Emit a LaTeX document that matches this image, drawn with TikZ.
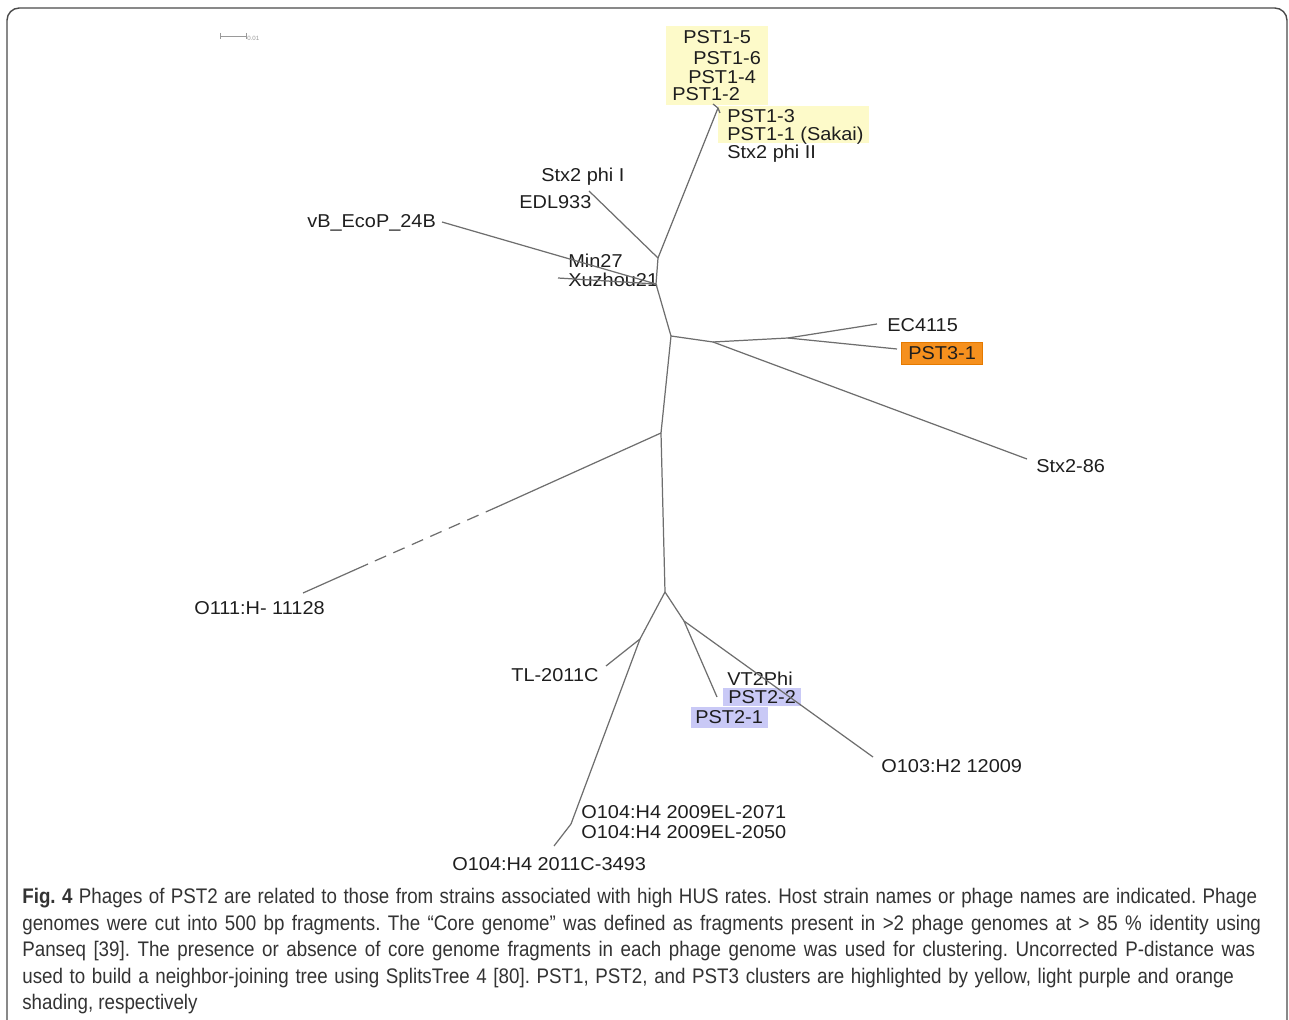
\documentclass[tikz,border=0pt]{standalone}
\usepackage{fontspec}
\setmainfont{Liberation Sans}
\newfontfamily\treefont[FakeStretch=1.07]{Liberation Sans}
\newfontfamily\capfont[FakeStretch=0.89]{Liberation Sans}
\definecolor{branchgray}{HTML}{6E6E6E}
\definecolor{labelgray}{HTML}{1E1E1E}
\definecolor{captext}{HTML}{333333}
\definecolor{framegray}{HTML}{4A4A4A}
\definecolor{pstone}{HTML}{FDFAC9}
\definecolor{psttwo}{HTML}{C9C9F6}
\definecolor{pstthree}{HTML}{F5901E}
\definecolor{pstthreedark}{HTML}{E57A00}
\begin{document}
\frenchspacing
\begin{tikzpicture}[x=0.02cm,y=-0.02cm,
    branch/.style={draw=branchgray,line width=0.7pt},
    leaf/.style={anchor=base west,inner sep=0pt,text=labelgray,
      font=\treefont\fontsize{10.6}{12}\selectfont},
    capline/.style={anchor=base west,inner sep=0pt,text=captext,
      font=\capfont\fontsize{12}{14}\selectfont}]
  \useasboundingbox (0,0) rectangle (1289,1020);
  \draw[framegray,line width=0.8pt,rounded corners=7pt]
    (7,1060) -- (7,8) -- (1287,8) -- (1287,1060);
  % shading of the clusters
  \fill[pstone] (666,26) rectangle (768,105);
  \fill[pstone] (718,106) rectangle (869,143);
  \fill[psttwo] (723,688) rectangle (801,706);
  \fill[psttwo] (691,707) rectangle (768,728);
  \draw[fill=pstthree,draw=pstthreedark,line width=0.5pt] (901,342) rectangle (982,364);
  % scale bar
  \draw[branchgray!70,line width=0.5pt] (220,33) -- (220,39) (220,36) -- (246,36) (246,33) -- (246,39);
  \node[anchor=west,inner sep=0pt,text=branchgray!70,font=\fontsize{3.5}{4}\selectfont] (scale) at (247,38) {0.01};
  % leaves
  \begin{scope}[every node/.style=leaf]
    \draw
      (683,44) node (pst15) {PST1-5}
      (693,65) node (pst16) {PST1-6}
      (688,84) node (pst14) {PST1-4}
      (672,101) node (pst12) {PST1-2}
      (727,123) node (pst13) {PST1-3}
      (727,141) node (pst11) {PST1-1 (Sakai)}
      (727,159) node (stxphiII) {Stx2 phi II}
      (541,182) node (stxphiI) {Stx2 phi I}
      (519,209) node (edl) {EDL933}
      (307,228) node (vb) {vB\_EcoP\_24B}
      (568,268) node (min) {Min27}
      (568,287) node (xuz) {Xuzhou21}
      (887,332) node (ec) {EC4115}
      (908,360) node (pst31) {PST3-1}
      (1036,473) node (stx86) {Stx2-86}
      (194,615) node (oeleven) {O111:H- 11128}
      (511,682) node (tl) {TL-2011C}
      (727,685) node (vt) {VT2Phi}
      (728,704) node (pst22) {PST2-2}
      (695,724) node (pst21) {PST2-1}
      (881,772) node (othree) {O103:H2 12009}
      (581,818) node (ofour71) {O104:H4 2009EL-2071}
      (581,838) node (ofour50) {O104:H4 2009EL-2050}
      (452,870) node (ofour93) {O104:H4 2011C-3493};
  \end{scope}
  % inner points and branch ends
  \coordinate (a) at (658,258);
  \coordinate (b) at (671,336);
  \coordinate (c) at (661,433);
  \coordinate (d) at (665,592);
  \coordinate (e) at (713,342);
  \coordinate (f) at (788,338);
  \coordinate (g) at (640,639);
  \coordinate (h) at (571,824);
  \coordinate (k) at (684,621);
  \coordinate (x) at (656,284);
  \coordinate (topend) at (718,108);
  \coordinate (edlend) at (589,191);
  \coordinate (vbend) at (442,222);
  \coordinate (xuzend) at (558,278);
  \coordinate (ecend) at (877,324);
  \coordinate (pst3end) at (897,349);
  \coordinate (stx86end) at (1027,459);
  \coordinate (dashstart) at (497,507);
  \coordinate (dashend) at (368,564);
  \coordinate (oelevenend) at (303,593);
  \coordinate (tlend) at (606,666);
  \coordinate (hend) at (554,846);
  \coordinate (pst2end) at (717,697);
  \coordinate (othreeend) at (873,757);
  \begin{scope}[branch]
    \draw (a) to (topend);
    \draw (713,104) to (topend) to (720,113);
    \draw (a) to (edlend);
    \draw (a) to (x);
    \draw (x) to (vbend);
    \draw (x) to (xuzend);
    \draw (x) to (b);
    \draw (b) to (e);
    \draw (e) to (f);
    \draw (f) to (ecend);
    \draw (f) to (pst3end);
    \draw (e) to (stx86end);
    \draw (b) to (c);
    \draw (c) to (dashstart);
    \draw[dash pattern=on 7pt off 4.5pt] (dashstart) to (dashend);
    \draw (dashend) to (oelevenend);
    \draw (c) to (d);
    \draw (d) to (g);
    \draw (g) to (tlend);
    \draw (g) to (h);
    \draw (h) to (hend);
    \draw (d) to (k);
    \draw (k) to (pst2end);
    \draw (k) to (othreeend);
  \end{scope}
  % caption
  \begin{scope}[every node/.style=capline]
    \node (capa) at (22,903) {\makebox[24.7cm][s]{\textbf{Fig.~4} Phages of PST2 are related to those from strains associated with high HUS rates. Host strain names or phage names are indicated. Phage}};
    \node (capb) at (22,930) {\makebox[24.78cm][s]{genomes were cut into 500 bp fragments. The “Core genome” was defined as fragments present in >2 phage genomes at > 85 \% identity using}};
    \node (capc) at (22,956) {\makebox[24.66cm][s]{Panseq [39]. The presence or absence of core genome fragments in each phage genome was used for clustering. Uncorrected P-distance was}};
    \node (capd) at (22,983) {\makebox[24.24cm][s]{used to build a neighbor-joining tree using SplitsTree 4 [80]. PST1, PST2, and PST3 clusters are highlighted by yellow, light purple and orange}};
    \node (cape) at (22,1009) {shading, respectively};
  \end{scope}
\end{tikzpicture}
\end{document}
